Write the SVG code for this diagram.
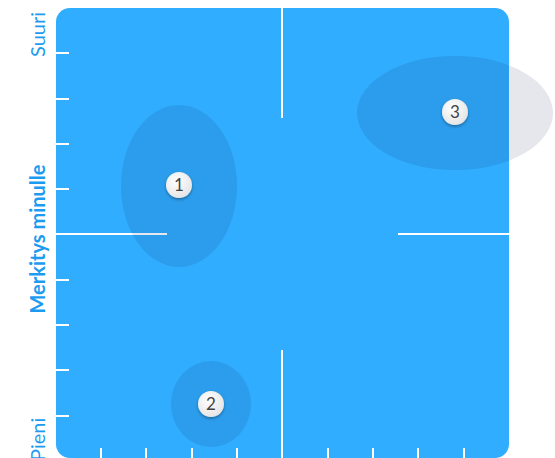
<svg xmlns="http://www.w3.org/2000/svg" width="555" height="458" viewBox="0 0 555 458">
<defs>
<filter id="sh" x="-50%" y="-50%" width="200%" height="200%">
<feDropShadow dx="0" dy="1.5" stdDeviation="1.5" flood-color="#000" flood-opacity="0.35"/>
</filter>
<radialGradient id="bg" cx="0.4" cy="0.35" r="0.7">
<stop offset="0" stop-color="#ffffff"/>
<stop offset="1" stop-color="#e4e4e4"/>
</radialGradient>
</defs>
<style>
.lab{font-family:Lato,"Open Sans",sans-serif;fill:#1d9bf0;font-size:20px}
.tk{stroke:#ffffff;stroke-width:2;fill:none}
.zone{fill:#0a1446;fill-opacity:0.1}
.badge{fill:url(#bg);filter:url(#sh)}
.num{font-family:Lato,"Open Sans",sans-serif;font-size:17px;fill:#444;text-anchor:middle}
</style>
<rect x="56" y="8" width="453" height="450" rx="14" fill="#30adff"/>
<g id="axes">
<text class="lab" transform="translate(45,57) rotate(-90)">Suuri</text>
<text class="lab" transform="translate(45,239) rotate(-90)" text-anchor="middle" font-weight="bold" font-size="21">Merkitys minulle</text>
<text class="lab" transform="translate(45,461) rotate(-90)">Pieni</text>
</g>
<g id="connectors">
<path class="tk" d="M56 53h13M56 99h13M56 144h13M56 189h13M56 280h13M56 325h13M56 370h13M56 416h13"/>
<path class="tk" d="M101 448v10M146 448v10M192 448v10M237 448v10M328 448v10M373 448v10M418 448v10M464 448v10"/>
<path class="tk" d="M282 8v110M282 350v108M56 234h111M398 234h111"/>
</g>
<g id="zone1">
<ellipse class="zone" cx="179" cy="186" rx="58" ry="81"/>
<circle class="badge" cx="179" cy="185" r="13"/>
<text class="num" x="179" y="191">1</text>
</g>
<g id="zone2">
<ellipse class="zone" cx="211" cy="404" rx="40" ry="43"/>
<circle class="badge" cx="211" cy="404" r="13"/>
<text class="num" x="211" y="410">2</text>
</g>
<g id="zone3">
<ellipse class="zone" cx="455" cy="113" rx="98" ry="57"/>
<circle class="badge" cx="455" cy="112" r="13"/>
<text class="num" x="455" y="118">3</text>
</g>
</svg>
